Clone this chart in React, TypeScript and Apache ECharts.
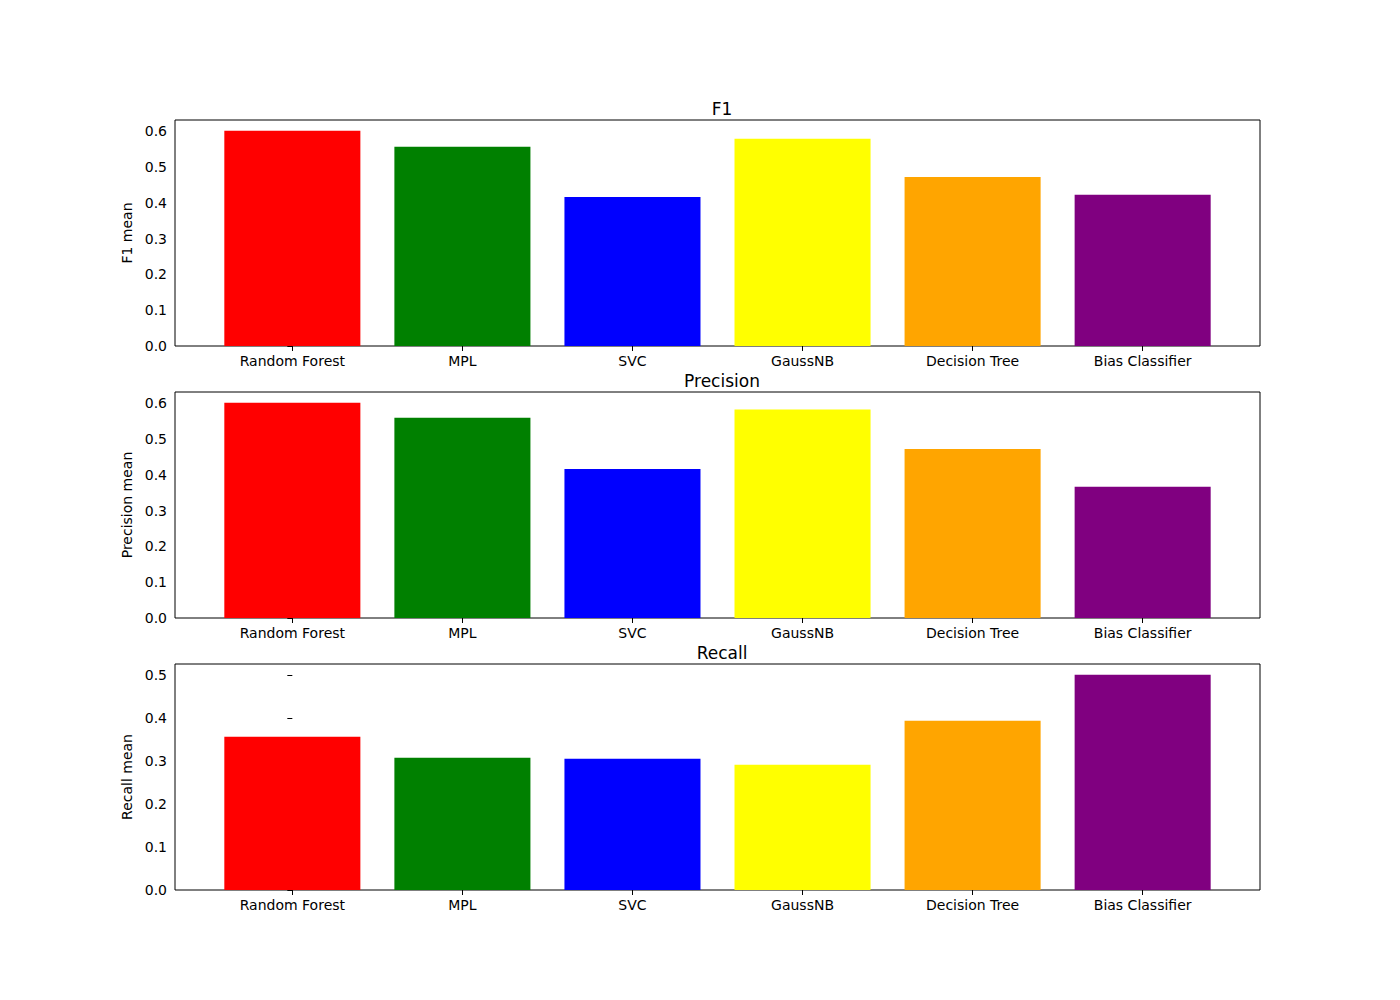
import { useEffect, useRef } from 'react';
import * as echarts from 'echarts';

const MODELS = ['Random Forest', 'MPL', 'SVC', 'GaussNB', 'Decision Tree', 'Bias Classifier'];
const COLORS = ['#ff0000', '#008000', '#0000ff', '#ffff00', '#ffa500', '#800080'];
const F1_MEAN = [0.602, 0.557, 0.417, 0.58, 0.473, 0.423];
const PRECISION_MEAN = [0.602, 0.56, 0.417, 0.583, 0.473, 0.367];
const RECALL_MEAN = [0.356, 0.307, 0.305, 0.291, 0.393, 0.5];

const PANELS = [
  { title: 'F1', yName: 'F1 mean', data: F1_MEAN, top: 120 },
  { title: 'Precision', yName: 'Precision mean', data: PRECISION_MEAN, top: 392 },
  { title: 'Recall', yName: 'Recall mean', data: RECALL_MEAN, top: 664 },
];

const FONT = 'DejaVu Sans';

export default function App() {
  const chartRef = useRef<HTMLDivElement>(null);

  useEffect(() => {
    document.body.style.margin = '0';
    if (!chartRef.current) return;
    const chart = echarts.init(chartRef.current, undefined, { renderer: 'svg' });

    const option: any = {
      animation: false,
      backgroundColor: '#fff',
      title: PANELS.map((p) => ({
        text: p.title,
        left: 717,
        textAlign: 'center',
        top: p.top - 25,
        textStyle: { fontFamily: FONT, fontSize: 17, fontWeight: 'normal', color: '#000' },
      })),
      grid: PANELS.map((p) => ({
        left: 175,
        right: 140,
        top: p.top,
        height: 226,
        show: true,
        borderColor: '#000',
        borderWidth: 1,
      })),
      xAxis: PANELS.map((_, i) => ({
        type: 'value',
        gridIndex: i,
        min: -0.69,
        max: 5.69,
        splitLine: { show: false },
        axisLine: { show: false },
        axisTick: { show: true, inside: false, length: 5, lineStyle: { color: '#000' }, customValues: [0, 1, 2, 3, 4, 5] },
        axisLabel: {
          customValues: [0, 1, 2, 3, 4, 5],
          formatter: (v: number) => MODELS[Math.round(v)] ?? '',
          fontFamily: FONT,
          fontSize: 14,
          color: '#000',
          margin: 8,
        },
      })),
      yAxis: PANELS.map((p, i) => {
        const top = Math.max(...p.data) * 1.05;
        return {
          type: 'value',
          gridIndex: i,
          min: 0,
          max: top,
          interval: 0.1,
          name: p.yName,
          nameLocation: 'middle',
          nameGap: 38,
          nameTextStyle: { fontFamily: FONT, fontSize: 14, color: '#000' },
          splitLine: { show: false },
          axisLine: { show: false },
          axisTick: { show: true, length: 5, lineStyle: { color: '#000' } },
          axisLabel: {
            fontFamily: FONT,
            fontSize: 14,
            color: '#000',
            formatter: (v: number) => (v > top ? '' : v.toFixed(1)),
          },
        };
      }),
      series: PANELS.map((p, i) => ({
        type: 'custom',
        xAxisIndex: i,
        yAxisIndex: i,
        data: p.data.map((v, k) => [k, v]),
        renderItem: (params: any, api: any) => {
          const x = api.value(0);
          const y = api.value(1);
          const p0 = api.coord([x - 0.4, y]);
          const p1 = api.coord([x + 0.4, 0]);
          return {
            type: 'rect',
            shape: { x: p0[0], y: p0[1], width: p1[0] - p0[0], height: p1[1] - p0[1] },
            style: { fill: COLORS[params.dataIndex] },
          };
        },
      })),
    };

    chart.setOption(option);
    return () => chart.dispose();
  }, []);

  return <div ref={chartRef} style={{ width: 1400, height: 1000 }} />;
}
